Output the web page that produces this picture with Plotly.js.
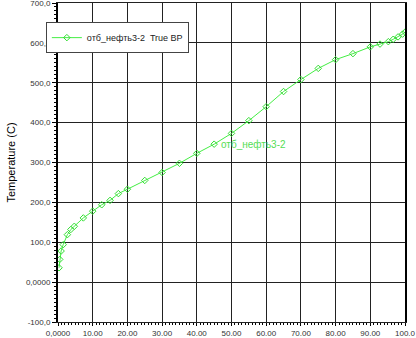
<!DOCTYPE html>
<html>
<head>
<meta charset="utf-8">
<script src="https://cdn.plot.ly/plotly-3.0.1.min.js"></script>
<style>html,body{margin:0;padding:0;background:#fff;}#chart{width:416px;height:338px;}</style>
</head>
<body>
<div id="chart"></div>
<script>
var seriesName = "отб_нефть3-2  True BP";
var labelText = "отб_нефть3-2";
var volPercent = [0.3, 0.5, 0.9, 1.5, 2.7, 3.7, 4.7, 7.3, 10, 12.6, 15, 17.4, 20, 25, 30, 35, 40, 45, 50, 55, 60, 65, 70, 75, 80, 85, 90, 92.8, 95.2, 96.6, 98, 99.3, 100];
var temperature = [36, 57, 78, 94, 119, 132, 140, 161, 178, 194, 205, 222, 233, 255, 275, 298, 323, 346, 373, 405, 440, 478, 508, 536, 558, 573, 590, 597, 603, 609, 615, 622, 627];
var xTickVals = [0, 10, 20, 30, 40, 50, 60, 70, 80, 90, 100];
var xTickText = ["0,0000", "10.00", "20.00", "30.00", "40.00", "50.00", "60.00", "70.00", "80.00", "90.00", "100.0"];
var yTickVals = [-100, 0, 100, 200, 300, 400, 500, 600, 700];
var yTickText = ["-100,0", "0,0000", "100,0", "200,0", "300,0", "400,0", "500,0", "600,0", "700,0"];

var trace = {
  x: volPercent, y: temperature, type: 'scatter', mode: 'lines+markers',
  name: seriesName,
  line: {color: '#44ee44', width: 1},
  marker: {symbol: 'diamond-open', size: 5, color: '#33dd33', line: {width: 1}}
};
var layout = {
  width: 416, height: 338,
  margin: {l: 58, r: 11, t: 3, b: 16},
  paper_bgcolor: '#fff', plot_bgcolor: '#fff',
  font: {family: 'Liberation Sans, Arial, sans-serif', size: 8, color: '#222'},
  showlegend: true,
  legend: {x: -0.035, y: 0.94, xanchor: 'left', yanchor: 'top', bgcolor: '#fff',
    bordercolor: '#444', borderwidth: 1, font: {size: 9, color: '#222'},
    itemwidth: 30, tracegroupgap: 0},
  xaxis: {range: [0, 100], tickvals: xTickVals, ticktext: xTickText,
    showgrid: true, gridcolor: '#222', gridwidth: 1, zeroline: false,
    showline: true, linecolor: '#222', linewidth: 1, mirror: true,
    ticks: 'outside', ticklen: 3, tickcolor: '#000', ticklabeloverflow: 'allow',
    minor: {ticks: 'outside', ticklen: 2, dtick: 1, tickcolor: '#000', showgrid: false},
    tickfont: {size: 8, color: '#333'}},
  yaxis: {range: [-100, 700], tickvals: yTickVals, ticktext: yTickText,
    showgrid: true, gridcolor: '#222', gridwidth: 1, zeroline: false,
    showline: true, linecolor: '#000', linewidth: 2, mirror: true,
    ticks: 'outside', ticklen: 4, tickcolor: '#000', ticklabeloverflow: 'allow',
    minor: {ticks: 'outside', ticklen: 2, dtick: 10, tickcolor: '#000', showgrid: false},
    tickfont: {size: 8, color: '#333'},
    title: {text: 'Temperature (C)', font: {size: 11, color: '#000'}, standoff: 8}},
  annotations: [{x: 46.5, y: 345, xref: 'x', yref: 'y', text: labelText, showarrow: false,
    xanchor: 'left', yanchor: 'middle', font: {size: 10, color: '#55dd55'}}]
};
Plotly.newPlot('chart', [trace], layout, {displayModeBar: false, staticPlot: true});
</script>
</body>
</html>
